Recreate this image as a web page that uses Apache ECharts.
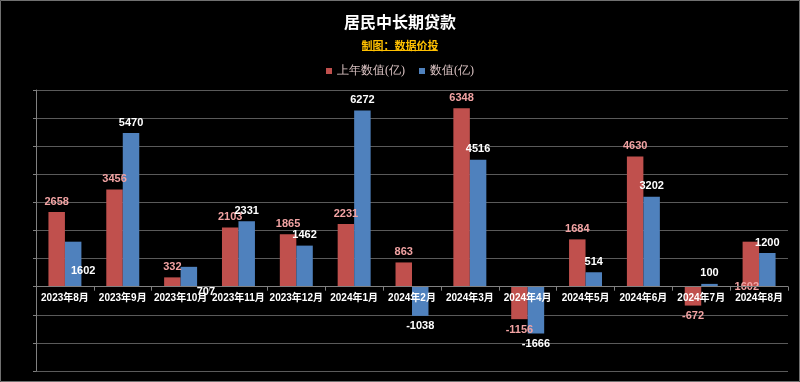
<!DOCTYPE html>
<html>
<head>
<meta charset="utf-8">
<script src="https://cdn.jsdelivr.net/npm/echarts@6/dist/echarts.min.js"></script>
<style>
html,body{margin:0;padding:0;background:#000;}
#chart{width:800px;height:382px;}
</style>
</head>
<body>
<div id="chart"></div>
<script>
const categories = ['2023年8月','2023年9月','2023年10月','2023年11月','2023年12月','2024年1月','2024年2月','2024年3月','2024年4月','2024年5月','2024年6月','2024年7月','2024年8月'];
const prevValues = [2658, 3456, 332, 2103, 1865, 2231, 863, 6348, -1156, 1684, 4630, -672, 1602];
const values = [1602, 5470, 707, 2331, 1462, 6272, -1038, 4516, -1666, 514, 3202, 100, 1200];
const seriesNames = ['上年数值(亿)', '数值(亿)'];
const yMin = -3000, yMax = 7000, yStep = 1000;

// label styling tweaks (offsets only, not data)
const prevLabelShift = {12: [-4, 56]};
const valueLabelShift = {0: [10, 40], 2: [17, 36]};

function buildData(arr, shifts) {
  return arr.map((v, i) => {
    const lbl = {position: v < 0 ? 'bottom' : 'top', distance: 5};
    if (shifts[i]) lbl.offset = shifts[i];
    return {value: v, label: lbl};
  });
}

const W = 800, H = 382;
const gridTop = 90, gridBottom = 11;
const gridH = H - gridTop - gridBottom;
const zeroOffset = gridH * (0 - yMin) / (yMax - yMin);

const chart = echarts.init(document.getElementById('chart'));
chart.setOption({
  backgroundColor: '#000',
  animation: false,
  title: [
    {text: '居民中长期贷款', left: 'center', top: 9,
     textStyle: {color: '#fff', fontSize: 16, fontWeight: 'bold', fontFamily: 'Noto Sans CJK SC'}},
    {text: '制图：数据价投', left: 'center', top: 35,
     textStyle: {color: '#FFC000', fontSize: 11, fontWeight: 'bold', fontFamily: 'Noto Sans CJK SC'}}
  ],
  legend: {
    top: 60, left: 'center',
    itemWidth: 6, itemHeight: 6, itemGap: 14,
    icon: 'rect',
    textStyle: {color: '#dcc4c4', fontSize: 12, fontFamily: 'serif'},
    data: seriesNames
  },
  grid: {left: 36, right: 12, top: gridTop, bottom: gridBottom, containLabel: false, outerBoundsMode: 'none'},
  xAxis: {
    type: 'category', data: categories, z: 10, position: 'bottom', offset: -zeroOffset,
    axisLine: {show: true, onZero: false, lineStyle: {color: '#808080'}},
    axisTick: {show: true, length: 4, lineStyle: {color: '#808080'}},
    axisLabel: {color: '#fff', fontSize: 10, fontWeight: 'bold', margin: 7, interval: 0,
      fontFamily: 'Liberation Sans, Noto Sans CJK SC'}
  },
  yAxis: {
    type: 'value', min: yMin, max: yMax, interval: yStep,
    axisLabel: {show: false},
    axisLine: {show: true, lineStyle: {color: '#808080'}},
    axisTick: {show: true, length: 3, lineStyle: {color: '#808080'}},
    splitLine: {show: true, lineStyle: {color: '#5a5a5a'}}
  },
  series: [
    {name: seriesNames[0], type: 'bar', barGap: '0%', barCategoryGap: '43%',
     itemStyle: {color: '#C0504D'},
     label: {show: true, color: '#F2A3A3', fontSize: 11, fontWeight: 'bold', fontFamily: 'Liberation Sans'},
     data: buildData(prevValues, prevLabelShift)},
    {name: seriesNames[1], type: 'bar', barGap: '0%', barCategoryGap: '43%',
     itemStyle: {color: '#4F81BD'},
     label: {show: true, color: '#fff', fontSize: 11, fontWeight: 'bold', fontFamily: 'Liberation Sans'},
     data: buildData(values, valueLabelShift)}
  ],
  graphic: [
    {type: 'rect', silent: true, z: 100,
     shape: {x: 0.5, y: 0.5, width: 799, height: 381},
     style: {fill: null, stroke: '#707070', lineWidth: 1}},
    {type: 'rect', silent: true, z: 100,
     shape: {x: 362, y: 50, width: 75, height: 1},
     style: {fill: '#FFC000'}}
  ]
});
</script>
</body>
</html>
